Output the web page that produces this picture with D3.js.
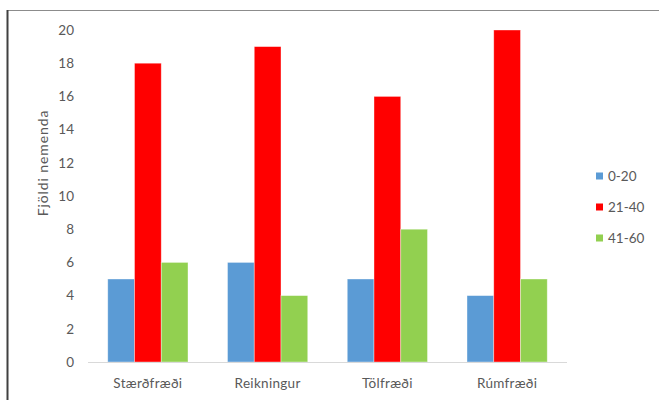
<!DOCTYPE html>
<html><head><meta charset="utf-8">
<script src="https://cdn.jsdelivr.net/npm/d3@7"></script>
<style>
body{margin:0;background:#fff;}
text{font-family:Lato,"Open Sans",sans-serif;fill:#595959;}
</style></head>
<body><svg id="c" width="659" height="400"></svg>
<script>
const categories = ["Stærðfræði","Reikningur","Tölfræði","Rúmfræði"];
const seriesNames = ["0-20","21-40","41-60"];
const values0_20 = [5,6,5,4];
const values21_40 = [18,19,16,20];
const values41_60 = [6,4,8,5];
const yTicks = [0,2,4,6,8,10,12,14,16,18,20];
const colors = ["#5B9BD5","#FF0000","#92D050"];
const seriesValues = [values0_20, values21_40, values41_60];

const svg = d3.select("#c");
// frame
svg.append("line").attr("x1",7).attr("x2",659).attr("y1",10.5).attr("y2",10.5).attr("stroke","#8c8c8c").attr("stroke-width",1);
svg.append("line").attr("x1",7.5).attr("x2",7.5).attr("y1",10).attr("y2",400).attr("stroke","#404040").attr("stroke-width",2);

const x = d3.scaleBand().domain(categories).range([88,567]).paddingInner(0.33).paddingOuter(0.165);
const xs = d3.scaleBand().domain(seriesNames).range([0,x.bandwidth()]);
const y = d3.scaleLinear().domain([0,20]).range([362,30]);

// y tick labels
svg.append("g").selectAll("text").data(yTicks).join("text")
  .attr("x",74).attr("y",d=>y(d)).attr("dy","0.35em").attr("text-anchor","end")
  .style("font-size","13.5px").text(d=>d);

// bars
seriesNames.forEach((s,i)=>{
  svg.append("g").selectAll("rect").data(categories).join("rect")
    .attr("x",c=>x(c)+xs(s)).attr("width",xs.bandwidth())
    .attr("y",(c,j)=>y(seriesValues[i][j])).attr("height",(c,j)=>y(0)-y(seriesValues[i][j]))
    .attr("fill",colors[i]).attr("stroke","#ffffff").attr("stroke-opacity",0.5).attr("stroke-width",0.75);
});

// baseline
svg.append("line").attr("x1",88).attr("x2",567).attr("y1",362.5).attr("y2",362.5).attr("stroke","#d9d9d9").attr("stroke-width",1);

// x labels
svg.append("g").selectAll("text").data(categories).join("text")
  .attr("x",c=>x(c)+x.bandwidth()/2).attr("y",388).attr("text-anchor","middle")
  .style("font-size","13.5px").style("letter-spacing","0.3px").text(c=>c);

// axis title
svg.append("text").attr("transform","translate(48,163) rotate(-90)").attr("text-anchor","middle")
  .style("font-size","14px").style("letter-spacing","0.9px").text("Fjöldi nemenda");

// legend
const ly = [176,207,238];
seriesNames.forEach((s,i)=>{
  svg.append("rect").attr("x",596).attr("y",ly[i]-3.5).attr("width",7).attr("height",7).attr("fill",colors[i]);
  svg.append("text").attr("x",608).attr("y",ly[i]).attr("dy","0.35em").style("font-size","13.5px").text(s);
});
</script></body></html>
